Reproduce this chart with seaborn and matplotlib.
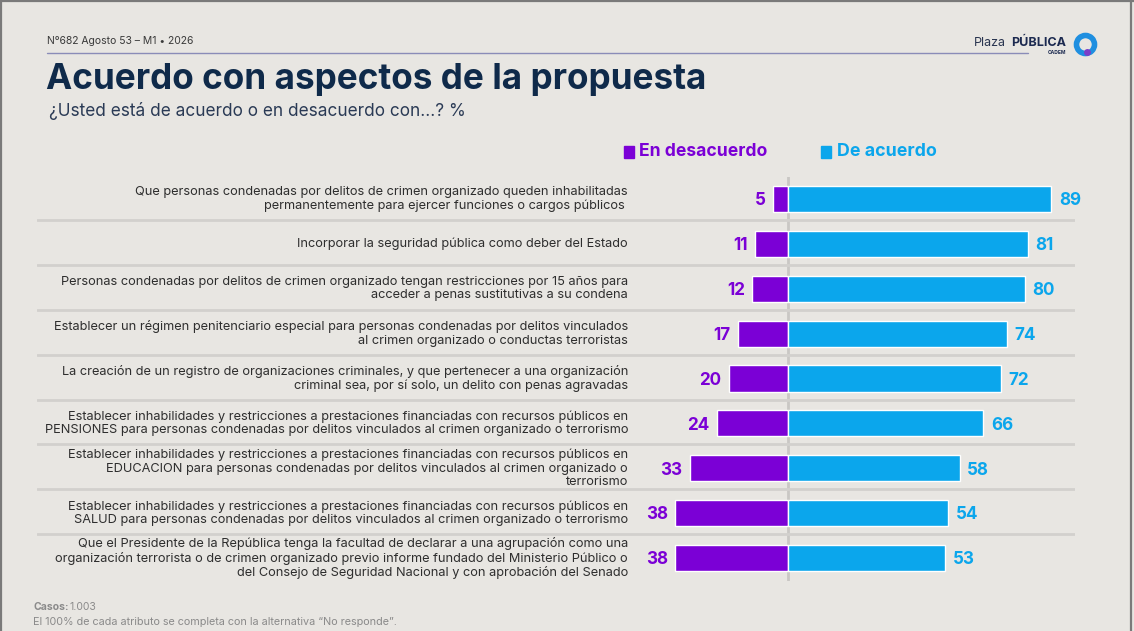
import matplotlib
matplotlib.use("Agg")
import matplotlib.pyplot as plt
import seaborn as sns
import pandas as pd
from matplotlib.lines import Line2D
from matplotlib.patches import Rectangle

# data
labels = [
    "Que personas condenadas por delitos de crimen organizado queden inhabilitadas\npermanentemente para ejercer funciones o cargos públicos ",
    "Incorporar la seguridad pública como deber del Estado",
    "Personas condenadas por delitos de crimen organizado tengan restricciones por 15 años para\nacceder a penas sustitutivas a su condena",
    "Establecer un régimen penitenciario especial para personas condenadas por delitos vinculados\nal crimen organizado o conductas terroristas",
    "La creación de un registro de organizaciones criminales, y que pertenecer a una organización\ncriminal sea, por sí solo, un delito con penas agravadas",
    "Establecer inhabilidades y restricciones a prestaciones financiadas con recursos públicos en\nPENSIONES para personas condenadas por delitos vinculados al crimen organizado o terrorismo",
    "Establecer inhabilidades y restricciones a prestaciones financiadas con recursos públicos en\nEDUCACION para personas condenadas por delitos vinculados al crimen organizado o\nterrorismo",
    "Establecer inhabilidades y restricciones a prestaciones financiadas con recursos públicos en\nSALUD para personas condenadas por delitos vinculados al crimen organizado o terrorismo",
    "Que el Presidente de la República tenga la facultad de declarar a una agrupación como una\norganización terrorista o de crimen organizado previo informe fundado del Ministerio Público o\ndel Consejo de Seguridad Nacional y con aprobación del Senado",
]
desacuerdo = [5, 11, 12, 17, 20, 24, 33, 38, 38]
acuerdo = [89, 81, 80, 74, 72, 66, 58, 54, 53]
series_names = ["En desacuerdo", "De acuerdo"]

PURPLE = "#7b00d6"
BLUE = "#0ba6ec"
NAVY = "#0f2a4a"
BG = "#e8e6e2"
FONT = "Inter"

df = pd.DataFrame({"item": labels, "des": desacuerdo, "acu": acuerdo})
df["des_neg"] = -df["des"]

sns.set_style("white")
plt.rcParams["font.family"] = [FONT, "DejaVu Sans"]

fig = plt.figure(figsize=(11.34, 6.31), dpi=100, facecolor=BG)
ax = fig.add_axes([37 / 1134, 1 - 580.5 / 631, (1075 - 37) / 1134, (580.5 - 176.5) / 631])
ax.set_facecolor(BG)

ax.axvline(0, color="#c9c7c4", lw=2, zorder=0)
for i in range(len(labels) - 1):
    ax.axhline(i + 0.47, color="#d2d0cd", lw=2, zorder=0)

sns.barplot(data=df, y="item", x="des_neg", orient="h", color=PURPLE,
            width=0.58, saturation=1, ax=ax, zorder=2)
sns.barplot(data=df, y="item", x="acu", orient="h", color=BLUE,
            width=0.58, saturation=1, ax=ax, zorder=2)

ax.set_xlim(-253.7, 97.0)
ax.set_ylim(len(labels) - 0.5, -0.5)
ax.set_xticks([])
ax.set_yticks([])
ax.set_xlabel("")
ax.set_ylabel("")
for s in ax.spines.values():
    s.set_visible(False)

for i, (lab, d, a) in enumerate(zip(labels, desacuerdo, acuerdo)):
    ax.text(-54, i, lab, ha="right", va="center", fontsize=9.2,
            color="#2e2e2e", linespacing=1.15)
    ax.text(-d - 2.6, i + 0.04, str(d), ha="right", va="center", fontsize=12.3,
            fontweight="bold", color=PURPLE)
    ax.text(a + 2.6, i + 0.04, str(a), ha="left", va="center", fontsize=12.3,
            fontweight="bold", color=BLUE)

# legend
fig.patches.append(Rectangle((624 / 1134, 1 - 158 / 631), 10 / 1134, 12 / 631,
                             transform=fig.transFigure, color=PURPLE))
fig.text(639 / 1134, 1 - 152 / 631, series_names[0], fontsize=12.6, fontweight="bold",
         color=PURPLE, va="center")
fig.patches.append(Rectangle((821 / 1134, 1 - 158 / 631), 10 / 1134, 12 / 631,
                             transform=fig.transFigure, color=BLUE))
fig.text(837 / 1134, 1 - 152 / 631, series_names[1], fontsize=12.8, fontweight="bold",
         color=BLUE, va="center")

# header
fig.text(47 / 1134, 1 - 41 / 631, "Nº682 Agosto 53 – M1 • 2026", fontsize=7.5,
         color="#3a3a3a", va="center")
fig.add_artist(Line2D([47 / 1134, 1028 / 1134], [1 - 53 / 631, 1 - 53 / 631],
                      color="#8a8cb8", lw=1))
fig.text(1006 / 1134, 1 - 43 / 631, "Plaza", fontsize=9, color="#2a3550",
         ha="right", va="center")
fig.text(1066 / 1134, 1 - 43 / 631, "PÚBLICA", fontsize=9, fontweight="bold",
         color="#1c2a50", ha="right", va="center")
fig.text(1066 / 1134, 1 - 53 / 631, "CADEM", fontsize=3.5, fontweight="bold",
         color="#1c2a50", ha="right", va="center")
fig.add_artist(Line2D([1085 / 1134], [1 - 44 / 631], marker="o", markersize=13,
                      markerfacecolor="none", markeredgecolor="#1f8fe0", mew=4))
fig.add_artist(Line2D([1087 / 1134], [1 - 52 / 631], marker="o", markersize=5,
                      color="#7b3fc8", mew=0))

fig.text(46 / 1134, 1 - 80 / 631, "Acuerdo con aspectos de la propuesta", fontsize=25.3,
         fontweight="bold", color=NAVY, va="center")
fig.text(49 / 1134, 1 - 111 / 631, "¿Usted está de acuerdo o en desacuerdo con…? %",
         fontsize=12.4, color="#2a3a55", va="center")

# footer
fig.text(33 / 1134, 1 - 607 / 631, "Casos:", fontsize=7.5, fontweight="bold",
         color="#8a8a8a", va="center")
fig.text(70 / 1134, 1 - 607 / 631, "1.003", fontsize=7.5, color="#8a8a8a", va="center")
fig.text(33 / 1134, 1 - 622 / 631,
         "El 100% de cada atributo se completa con la alternativa “No responde”.",
         fontsize=7.8, color="#8a8a8a", va="center")

# frame
for xs, ys in [([0.001, 0.001], [0, 1]), ([0, 1], [0.999, 0.999]),
               ([1131 / 1134, 1131 / 1134], [0, 1])]:
    fig.add_artist(Line2D(xs, ys, color="#7a7a7a", lw=1.6))

fig.savefig("out.png", dpi=100, facecolor=BG)
